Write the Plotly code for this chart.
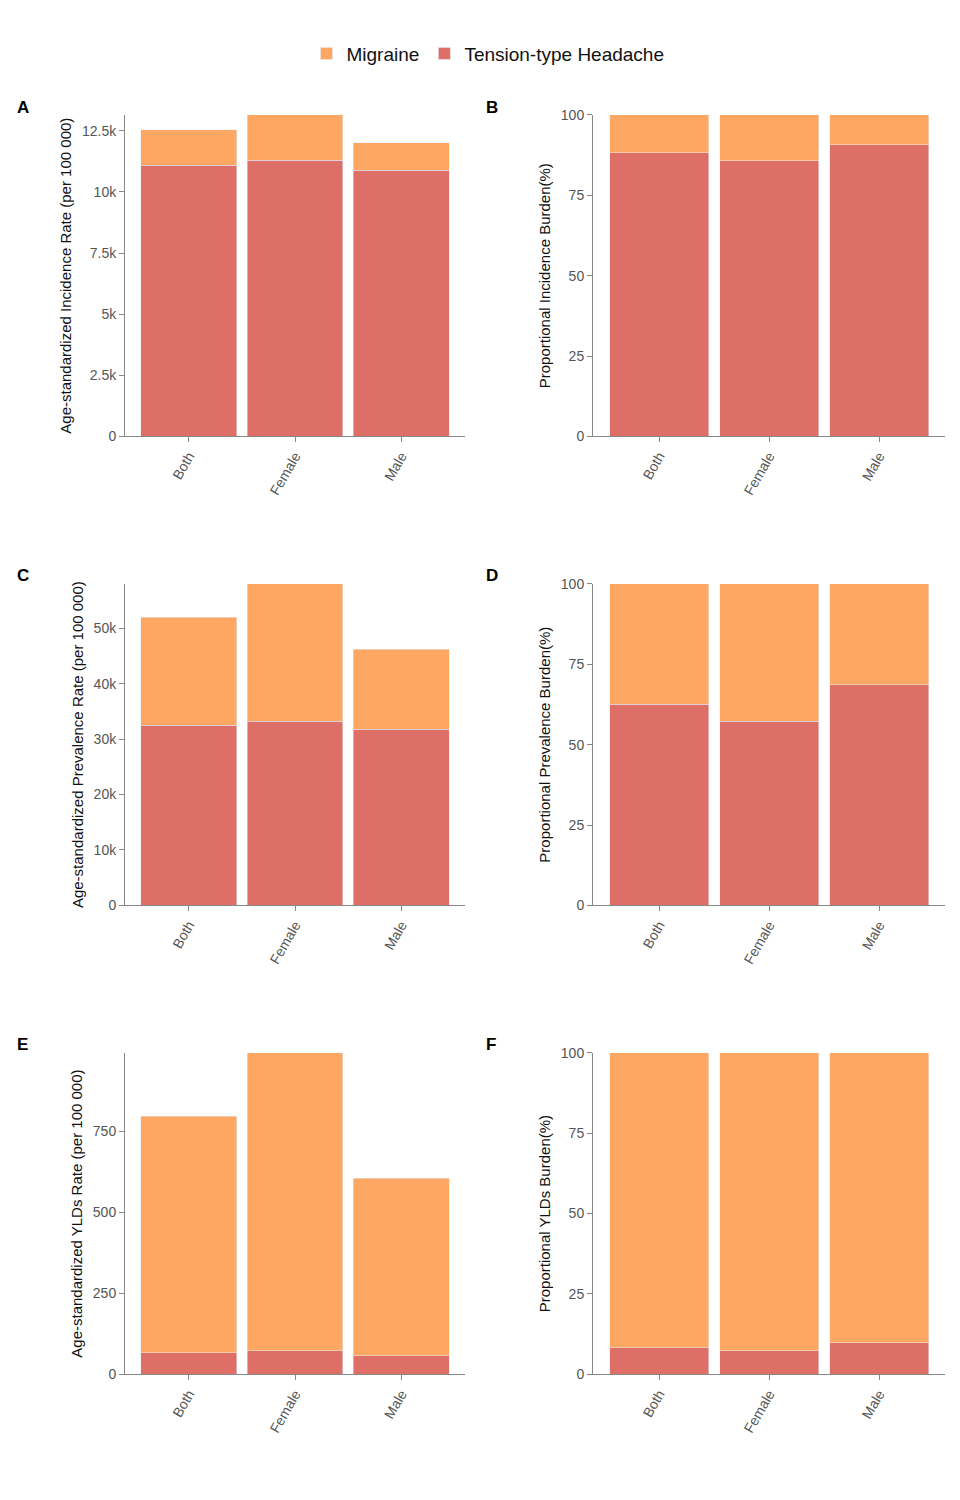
import plotly.graph_objects as go

sexes = ["Both", "Female", "Male"]

# age-standardized rates (per 100 000)
inc_tth = [11084, 11290, 10880]
inc_mig = [1460, 1860, 1135]
prev_tth = [32500, 33214, 31786]
prev_mig = [19464, 24786, 14464]
yld_tth = [67, 73, 58]
yld_mig = [729, 918, 546]

# proportional burden (%)
inc_tth_pct = [88.3, 85.8, 90.8]
prev_tth_pct = [62.5, 57.2, 68.6]
yld_tth_pct = [8.3, 7.4, 9.8]

MIG = "#FDA762"
TTH = "#DD6F66"

fig = go.Figure()

panels = [
    # (tth, mig, yrange, dtick, title, letter)
    (inc_tth, inc_mig, 13150, 2500, "Age-standardized Incidence Rate (per 100 000)", "A"),
    (inc_tth_pct, [100 - v for v in inc_tth_pct], 100, 25, "Proportional Incidence Burden(%)", "B"),
    (prev_tth, prev_mig, 58000, 10000, "Age-standardized Prevalence Rate (per 100 000)", "C"),
    (prev_tth_pct, [100 - v for v in prev_tth_pct], 100, 25, "Proportional Prevalence Burden(%)", "D"),
    (yld_tth, yld_mig, 991, 250, "Age-standardized YLDs Rate (per 100 000)", "E"),
    (yld_tth_pct, [100 - v for v in yld_tth_pct], 100, 25, "Proportional YLDs Burden(%)", "F"),
]

W, H = 960, 1500
col_px = [(117, 457), (585, 937)]
row_px = [(100, 425), (574, 899), (1048, 1373)]

layout = {}
for i, (tth, mig, ymax, dt, title, letter) in enumerate(panels):
    r, c = divmod(i, 2)
    n = i + 1
    xa = "x" if n == 1 else f"x{n}"
    ya = "y" if n == 1 else f"y{n}"
    fig.add_trace(go.Bar(x=sexes, y=tth, marker_color=TTH, name="Tension-type Headache",
                         xaxis=xa, yaxis=ya, showlegend=(n == 1), legendrank=2))
    fig.add_trace(go.Bar(x=sexes, y=mig, marker_color=MIG, name="Migraine",
                         xaxis=xa, yaxis=ya, showlegend=(n == 1), legendrank=1))
    axis_style = dict(showline=True, linecolor="#888", linewidth=1, ticks="outside",
                      tickcolor="#888", ticklen=5, showgrid=False, zeroline=False,
                      tickfont=dict(size=14, color="#555"))
    layout["xaxis" if n == 1 else f"xaxis{n}"] = dict(
        domain=[col_px[c][0] / W, col_px[c][1] / W], anchor=ya, range=[-0.6, 2.6],
        tickangle=-60, **axis_style)
    layout["yaxis" if n == 1 else f"yaxis{n}"] = dict(
        domain=[1 - row_px[r][1] / H, 1 - row_px[r][0] / H], anchor=xa, range=[0, ymax],
        dtick=dt, title=dict(text=title, font=dict(size=15, color="#111"), standoff=6),
        **axis_style)
    fig.add_annotation(text=f"<b>{letter}</b>", xref="paper", yref="paper",
                       x=(col_px[c][0] - 110 + (0 if c == 0 else 1)) / W,
                       y=1 - (row_px[r][0] - 8) / H,
                       showarrow=False, xanchor="left", yanchor="middle",
                       font=dict(size=17, color="#000"))

fig.update_layout(
    **layout,
    barmode="stack", bargap=0.1,
    width=W, height=H,
    margin=dict(l=0, r=0, t=0, b=0),
    paper_bgcolor="white", plot_bgcolor="white",
    font=dict(family="Liberation Sans, Arial, sans-serif"),
    legend=dict(orientation="h", x=0.5, xanchor="center", y=1 - 38 / H, yanchor="middle",
                font=dict(size=19, color="#111"), traceorder="normal"),
)

fig.write_html("out.html")
